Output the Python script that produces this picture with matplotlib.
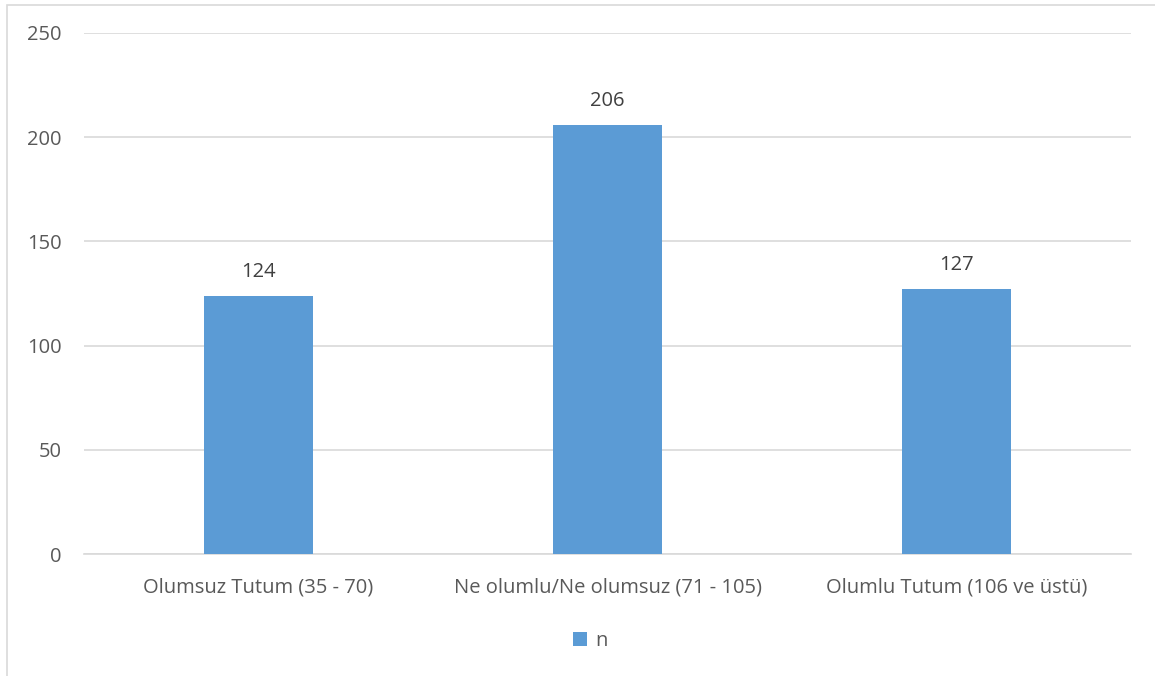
import matplotlib
matplotlib.use("Agg")
from matplotlib import pyplot as plt
from matplotlib.patches import Rectangle
import numpy as np

categories = ["Olumsuz Tutum (35 - 70)", "Ne olumlu/Ne olumsuz (71 - 105)", "Olumlu Tutum (106 ve üstü)"]
values = [124, 206, 127]
yticks = [0, 50, 100, 150, 200, 250]
series_name = "n"

plt.rcParams['font.family'] = ['Open Sans', 'DejaVu Sans']

fig = plt.figure(figsize=(11.55, 6.76), dpi=100)
# outer chart frame (cut off at right and bottom like the source)
fig.patches.append(Rectangle((7 / 1155, -0.1), 1.2, 1.1 - 5 / 676, transform=fig.transFigure,
                             fill=False, edgecolor="#D9D9D9", linewidth=1.2))

ax = fig.add_axes([84 / 1155, 1 - 554 / 676, (1131 - 84) / 1155, (554 - 33) / 676])
x = np.arange(len(categories))
bars = ax.bar(x, values, width=0.315, color="#5B9BD5", label=series_name, zorder=3)

# value labels above bars
for b, v in zip(bars, values):
    ax.annotate(str(v), (b.get_x() + b.get_width() / 2, v), xytext=(0, 10),
                textcoords="offset points", ha="center", va="bottom",
                fontsize=14.5, color="#404040")

ax.set_xlim(-0.5, len(categories) - 0.5)
ax.set_ylim(0, 250)
ax.set_yticks(yticks)
ax.set_xticks(x)
ax.set_xticklabels(categories)
ax.yaxis.grid(True, color="#D9D9D9", linewidth=1.2, zorder=0)
ax.tick_params(axis="both", length=0, labelsize=14.5, colors="#595959")
ax.tick_params(axis="y", pad=16)
ax.tick_params(axis="x", pad=17)
for s in ["top", "right", "left"]:
    ax.spines[s].set_visible(False)
ax.spines["bottom"].set_color("#D9D9D9")
ax.spines["bottom"].set_linewidth(1.2)

leg = fig.legend(loc="center", bbox_to_anchor=(590 / 1155, 1 - 641 / 676), frameon=False,
                 fontsize=14.5, handlelength=0.7, handleheight=0.7, handletextpad=0.4)
for t in leg.get_texts():
    t.set_color("#595959")

fig.savefig("out.png", dpi=100)
